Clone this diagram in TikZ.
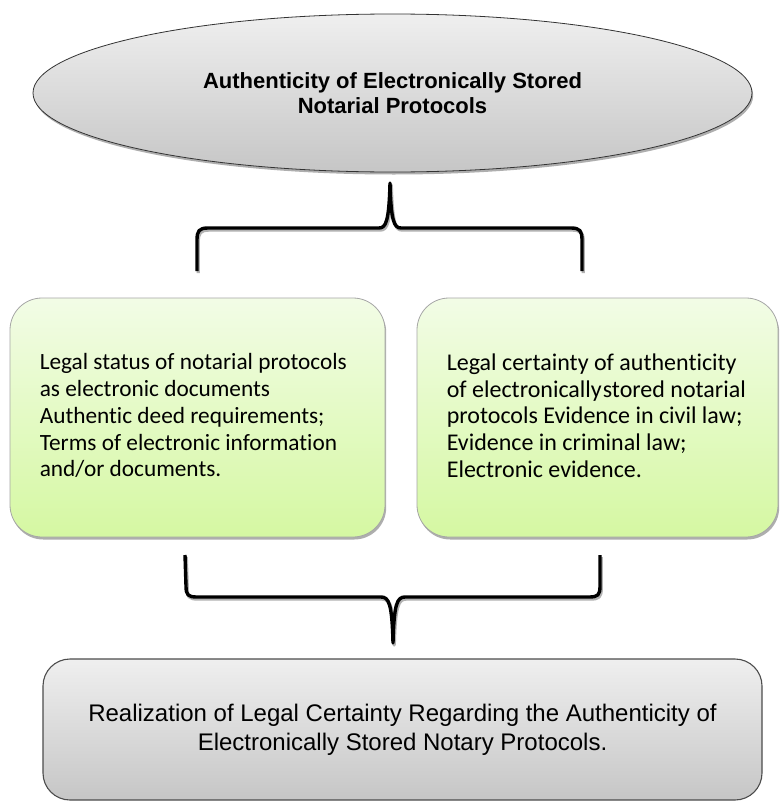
\documentclass[tikz,border=0pt]{standalone}
\usepackage{fontspec}
\setmainfont{Liberation Sans}
\newfontfamily\calib[Ligatures=NoCommon]{Carlito}
\usetikzlibrary{shapes.geometric,shadows,calc}
\definecolor{greentop}{HTML}{F2FCE6}
\definecolor{greenbot}{HTML}{D5F8A2}
\definecolor{greytop}{HTML}{EFEFEF}
\definecolor{greybot}{HTML}{C6C6C6}
\tikzset{
  softshadow/.style={drop shadow={shadow xshift=1.2pt, shadow yshift=-2.5pt, opacity=0.45, fill=black!70}},
  titleell/.style={ellipse, draw=black!80, line width=0.8pt, top color=greytop, bottom color=greybot,
    minimum width=719pt, minimum height=158pt, inner sep=0pt, align=center,
    font=\fontsize{22}{25}\selectfont\bfseries, softshadow},
  greenbox/.style={rectangle, rounded corners=32pt, draw=black!35, line width=0.8pt,
    top color=greentop, bottom color=greenbot, minimum height=239pt, inner sep=0pt, softshadow},
  greybox/.style={rectangle, rounded corners=27pt, draw=black!70, line width=1.1pt,
    top color=greytop, bottom color=greybot, minimum width=719pt, minimum height=141pt,
    inner sep=0pt, align=center, font=\fontsize{24}{29}\selectfont},
  boxtext/.style={font=\calib\fontsize{23.3}{26.7}\selectfont, align=left, anchor=north west, inner sep=0pt},
  brace/.style={line width=3.4pt, line join=round, draw=black},
  braceshadow/.style={line width=3.4pt, line join=round, draw=black!30, transform canvas={xshift=1.2pt, yshift=-2pt}}
}
\begin{document}
\begin{tikzpicture}[x=1pt,y=-1pt]
\useasboundingbox (0,0) rectangle (779,803);
\fill[white] (0,0) rectangle (779,803);

\node[titleell] (title) at (392.5,93) {Authenticity of Electronically Stored\\Notarial Protocols};

\node[greenbox, minimum width=375pt] (lbox) at (197.5,417.5) {};
\node[greenbox, minimum width=361pt] (rbox) at (597.5,417.5) {};

\node[boxtext] (ltext) at ($(lbox.north west)+(30,56)$)
  {Legal status of notarial protocols\\as electronic documents\\Authentic deed requirements;\\Terms of electronic information\\and/or documents.};
\node[boxtext, font=\calib\fontsize{24}{26.7}\selectfont] (rtext) at ($(rbox.north west)+(30,56)$)
  {Legal certainty of authenticity\\of electronically\kern1pt stored notarial\\protocols Evidence in civil law;\\Evidence in criminal law;\\Electronic evidence.};

\node[greybox] (result) at (402.5,729.5)
  {Realization of Legal Certainty Regarding the Authenticity of\\Electronically Stored Notary Protocols.};

% top brace
\coordinate (tbL) at (197,271);
\coordinate (tbR) at (582,271);
\coordinate (tbTip) at (390,183);
\foreach \sty in {braceshadow,brace}{
\draw[\sty] (tbL) -- (197,240) .. controls (197,231) and (199,228) .. (208,228) -- (379,228)
  .. controls (386,228) and (389,221) .. (tbTip)
  .. controls (391,221) and (394,228) .. (401,228) -- (571,228)
  .. controls (580,228) and (582,231) .. (582,240) -- (tbR);
}
% bottom brace
\coordinate (bbL) at (185,555);
\coordinate (bbR) at (600,555);
\coordinate (bbTip) at (393,643);
\foreach \sty in {braceshadow,brace}{
\draw[\sty] (bbL) -- (186,586) .. controls (186,595) and (188,597) .. (197,597) -- (381,597)
  .. controls (389,597) and (392,604) .. (bbTip)
  .. controls (394,604) and (397,597) .. (405,597) -- (589,597)
  .. controls (598,597) and (600,595) .. (600,586) -- (bbR);
}
\end{tikzpicture}
\end{document}
